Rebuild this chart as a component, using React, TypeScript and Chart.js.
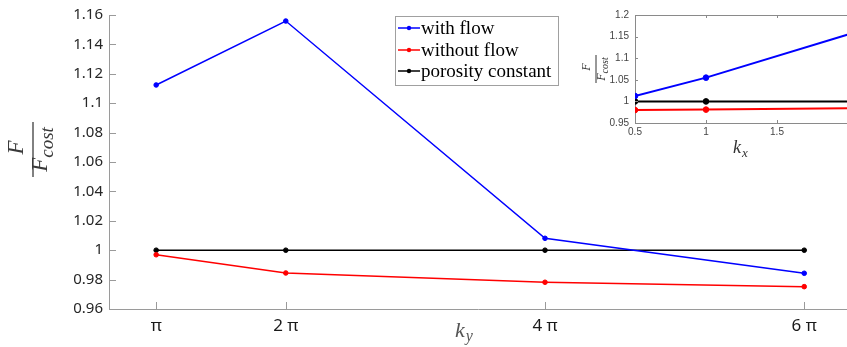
import React, { useEffect, useRef } from "react";
import { Chart, registerables } from "chart.js";
Chart.register(...registerables);

// Main plot: k_y in multiples of π
const kyValues = [1, 2, 4, 6];
const kyTickLabels = ["π", "2 π", "4 π", "6 π"];
const withFlow = [1.1124, 1.1559, 1.0081, 0.9843];
const withoutFlow = [0.9969, 0.9845, 0.9782, 0.9752];
const porosityConstant = [1, 1, 1, 1];
const seriesNames = ["with flow", "without flow", "porosity constant"];
const seriesColors = ["#0000ff", "#ff0000", "#000000"];

// Inset: k_x
const kxValues = [0.5, 1, 2];
const insetWithFlow = [1.0125, 1.055, 1.155];
const insetWithoutFlow = [0.98, 0.981, 0.984];
const insetPorosity = [1, 1, 1];
const insetXTicks = [0.5, 1, 1.5];

const SERIF = "'Liberation Serif', 'Times New Roman', serif";
const SANS = "'Noto Sans', 'Liberation Sans', sans-serif";

function toPts(xs: number[], ys: number[]) {
  return xs.map((x, i) => ({ x, y: ys[i] }));
}

function drawFraction(
  ctx: CanvasRenderingContext2D,
  cx: number,
  cy: number,
  fSize: number,
  subSize: number,
  bNum: number,
  bBar: number,
  bDen: number,
  bSub: number,
  barHalf: number,
  color: string
) {
  ctx.save();
  ctx.translate(cx, cy);
  ctx.rotate(-Math.PI / 2);
  ctx.fillStyle = color;
  ctx.strokeStyle = color;
  ctx.textBaseline = "alphabetic";
  ctx.font = `italic ${fSize}px ${SERIF}`;
  ctx.textAlign = "center";
  ctx.fillText("F", 2, bNum);
  ctx.lineWidth = Math.max(1, fSize / 18);
  ctx.beginPath();
  ctx.moveTo(-barHalf, bBar);
  ctx.lineTo(barHalf, bBar);
  ctx.stroke();
  const wF = ctx.measureText("F").width;
  ctx.font = `italic ${subSize}px ${SERIF}`;
  const wS = ctx.measureText("cost").width;
  const total = wF + wS;
  ctx.textAlign = "left";
  ctx.font = `italic ${fSize}px ${SERIF}`;
  ctx.fillText("F", -total / 2, bDen);
  ctx.font = `italic ${subSize}px ${SERIF}`;
  ctx.fillText("cost", -total / 2 + wF, bSub);
  ctx.restore();
}

function drawK(
  ctx: CanvasRenderingContext2D,
  x: number,
  baseline: number,
  sub: string,
  kSize: number,
  subSize: number,
  color: string
) {
  ctx.save();
  ctx.fillStyle = color;
  ctx.textAlign = "left";
  ctx.textBaseline = "alphabetic";
  ctx.font = `italic ${kSize}px ${SERIF}`;
  ctx.fillText("k", x, baseline);
  const w = ctx.measureText("k").width;
  ctx.font = `italic ${subSize}px ${SERIF}`;
  ctx.fillText(sub, x + w + 1, baseline + kSize * 0.2);
  ctx.restore();
}

function inwardTicks(chart: any, len: number, color: string, top: boolean) {
  const { ctx, chartArea, scales } = chart;
  ctx.save();
  ctx.strokeStyle = color;
  ctx.lineWidth = 1;
  ctx.beginPath();
  scales.y.ticks.forEach((t: any) => {
    const y = Math.round(scales.y.getPixelForValue(t.value)) + 0.5;
    ctx.moveTo(chartArea.left, y);
    ctx.lineTo(chartArea.left + len, y);
  });
  scales.x.ticks.forEach((t: any) => {
    const x = Math.round(scales.x.getPixelForValue(t.value)) + 0.5;
    ctx.moveTo(x, chartArea.bottom);
    ctx.lineTo(x, chartArea.bottom - len);
    if (top) {
      ctx.moveTo(x, chartArea.top);
      ctx.lineTo(x, chartArea.top + len);
    }
  });
  ctx.stroke();
  if (top) {
    ctx.beginPath();
    ctx.moveTo(chartArea.left, Math.round(chartArea.top) + 0.5);
    ctx.lineTo(chartArea.right, Math.round(chartArea.top) + 0.5);
    ctx.stroke();
  }
  ctx.restore();
}

const mainDecor = {
  id: "mainDecor",
  afterDraw(chart: any) {
    const ctx = chart.ctx as CanvasRenderingContext2D;
    inwardTicks(chart, 7, "#9a9a9a", false);
    drawFraction(ctx, 0, 149.5, 23, 19, 23, 33, 47, 53, 27.5, "#3a3a3a");
    drawK(ctx, 455, 337, "y", 22, 16, "#555555");
    // legend
    ctx.save();
    ctx.fillStyle = "#ffffff";
    ctx.fillRect(395, 16, 163, 69);
    ctx.strokeStyle = "#a0a0a0";
    ctx.lineWidth = 1;
    ctx.strokeRect(395.5, 16.5, 163, 69);
    const rows = [28, 50, 71];
    seriesNames.forEach((name, i) => {
      const y = rows[i];
      ctx.strokeStyle = seriesColors[i];
      ctx.fillStyle = seriesColors[i];
      ctx.lineWidth = 1.5;
      ctx.beginPath();
      ctx.moveTo(398, y);
      ctx.lineTo(420, y);
      ctx.stroke();
      ctx.beginPath();
      ctx.arc(409, y, 2.2, 0, Math.PI * 2);
      ctx.fill();
      ctx.fillStyle = "#000000";
      ctx.font = `19px ${SERIF}`;
      ctx.textAlign = "left";
      ctx.textBaseline = "middle";
      ctx.fillText(name, 421, y + 1);
    });
    ctx.restore();
  },
};

const insetDecor = {
  id: "insetDecor",
  afterDraw(chart: any) {
    const ctx = chart.ctx as CanvasRenderingContext2D;
    inwardTicks(chart, 3, "#8a8a8a", true);
    drawFraction(ctx, 0, 69, 12, 10, 10, 16, 25, 28, 14, "#333333");
    drawK(ctx, 153, 153, "x", 18, 13, "#333333");
  },
};

function makeDataset(label: string, xs: number[], ys: number[], color: string, width: number, r: any) {
  return {
    label,
    data: toPts(xs, ys),
    borderColor: color,
    backgroundColor: color,
    borderWidth: width,
    pointRadius: r,
    pointBorderWidth: 1,
    pointBackgroundColor: color,
    pointBorderColor: color,
    tension: 0,
  };
}

export default function App() {
  const mainRef = useRef<HTMLCanvasElement | null>(null);
  const insetRef = useRef<HTMLCanvasElement | null>(null);

  useEffect(() => {
    const main = new Chart(mainRef.current as HTMLCanvasElement, {
      type: "line",
      data: {
        datasets: [
          makeDataset(seriesNames[0], kyValues, withFlow, seriesColors[0], 1.5, 2.3),
          makeDataset(seriesNames[1], kyValues, withoutFlow, seriesColors[1], 1.5, 2.3),
          makeDataset(seriesNames[2], kyValues, porosityConstant, seriesColors[2], 1.5, 2.3),
        ],
      },
      options: {
        responsive: false,
        animation: false,
        layout: { autoPadding: false, padding: { left: 0, right: 0, top: 15, bottom: 0 } },
        plugins: { legend: { display: false }, tooltip: { enabled: false } },
        scales: {
          x: {
            type: "linear",
            min: 0.636,
            max: 6.33,
            grid: { display: false, drawTicks: false },
            border: { display: true, color: "#9a9a9a", width: 1 },
            afterBuildTicks: (s: any) => {
              s.ticks = kyValues.map((v) => ({ value: v }));
            },
            afterFit: (s: any) => {
              s.height = 38;
            },
            ticks: {
              autoSkip: false,
              maxRotation: 0,
              padding: 7,
              color: "#1a1a1a",
              font: { family: SANS, size: 17 },
              callback: (v: any) => {
                const i = kyValues.indexOf(Number(v));
                return i >= 0 ? kyTickLabels[i] : "";
              },
            },
          },
          y: {
            type: "linear",
            min: 0.96,
            max: 1.16,
            grid: { display: false, drawTicks: false },
            border: { display: true, color: "#9a9a9a", width: 1 },
            afterFit: (s: any) => {
              s.width = 109;
            },
            ticks: {
              stepSize: 0.02,
              padding: 6,
              color: "#262626",
              font: { family: SANS, size: 15 },
              callback: (v: any) => String(parseFloat(Number(v).toFixed(2))),
            },
          },
        },
      },
      plugins: [mainDecor],
    } as any);

    const insetRadius = [2.8, 2.8, 0];
    const inset = new Chart(insetRef.current as HTMLCanvasElement, {
      type: "line",
      data: {
        datasets: [
          makeDataset(seriesNames[0], kxValues, insetWithFlow, seriesColors[0], 2, insetRadius),
          makeDataset(seriesNames[1], kxValues, insetWithoutFlow, seriesColors[1], 2, insetRadius),
          makeDataset(seriesNames[2], kxValues, insetPorosity, seriesColors[2], 2, insetRadius),
        ],
      },
      options: {
        responsive: false,
        animation: false,
        layout: { autoPadding: false, padding: { left: 0, right: 0, top: 15, bottom: 0 } },
        plugins: { legend: { display: false }, tooltip: { enabled: false } },
        scales: {
          x: {
            type: "linear",
            min: 0.5,
            max: 0.5 + 245 / 142,
            grid: { display: false, drawTicks: false },
            border: { display: true, color: "#8a8a8a", width: 1 },
            afterBuildTicks: (s: any) => {
              s.ticks = insetXTicks.map((v) => ({ value: v }));
            },
            afterFit: (s: any) => {
              s.height = 42;
            },
            ticks: {
              autoSkip: false,
              maxRotation: 0,
              padding: 3,
              color: "#444444",
              font: { family: "'Liberation Sans', sans-serif", size: 10 },
              callback: (v: any) => String(v),
            },
          },
          y: {
            type: "linear",
            min: 0.95,
            max: 1.2,
            grid: { display: false, drawTicks: false },
            border: { display: true, color: "#8a8a8a", width: 1 },
            afterFit: (s: any) => {
              s.width = 55;
            },
            ticks: {
              stepSize: 0.05,
              padding: 6,
              color: "#444444",
              font: { family: "'Liberation Sans', sans-serif", size: 10 },
              callback: (v: any) => String(parseFloat(Number(v).toFixed(2))),
            },
          },
        },
      },
      plugins: [insetDecor],
    } as any);

    return () => {
      main.destroy();
      inset.destroy();
    };
  }, []);

  return (
    <div
      style={{
        position: "fixed",
        left: 0,
        top: 0,
        width: 847,
        height: 347,
        overflow: "hidden",
        background: "#ffffff",
      }}
    >
      <canvas
        ref={mainRef}
        width={847}
        height={347}
        style={{ position: "absolute", left: 0, top: 0, width: 847, height: 347 }}
      />
      <canvas
        ref={insetRef}
        width={300}
        height={165}
        style={{ position: "absolute", left: 580, top: 0, width: 300, height: 165 }}
      />
    </div>
  );
}
